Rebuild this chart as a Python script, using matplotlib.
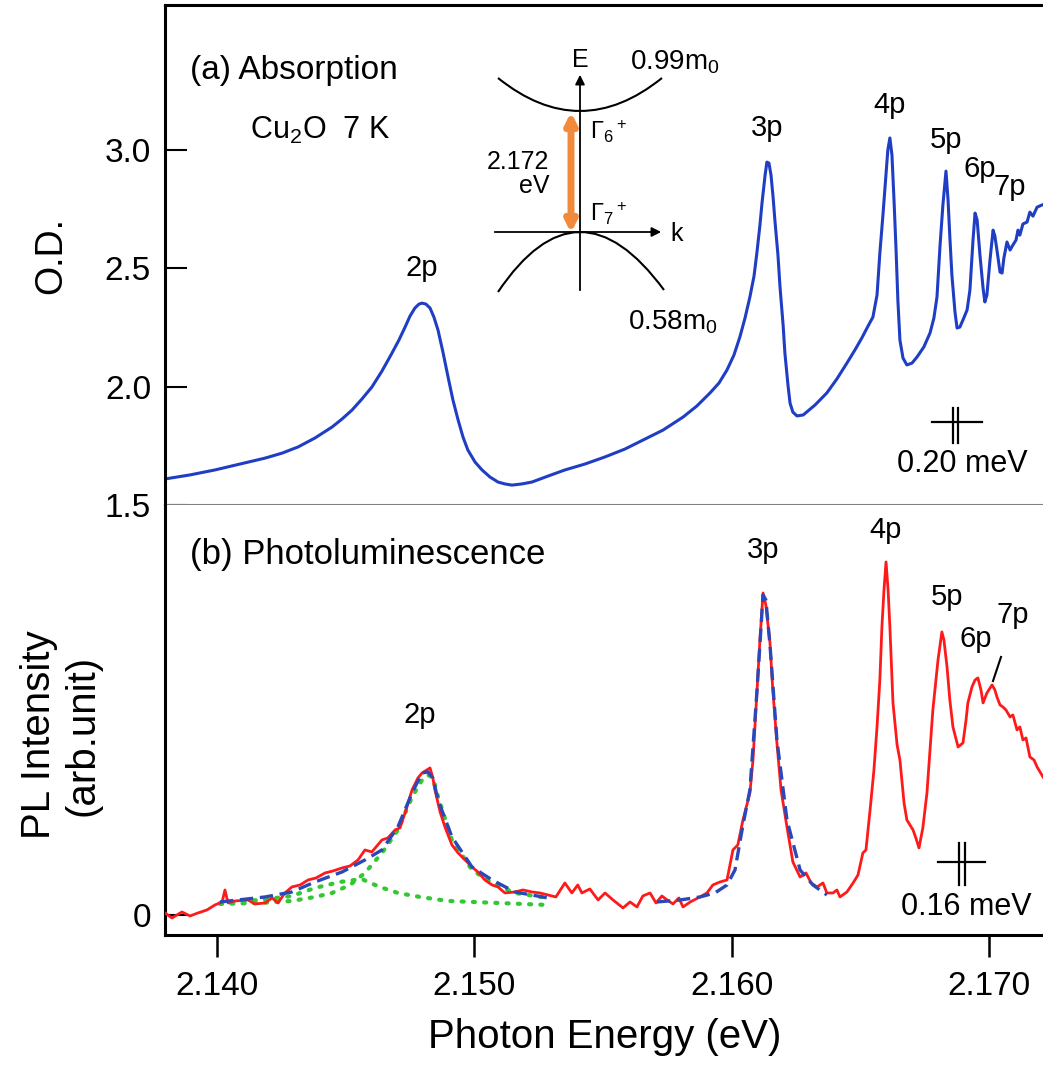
import matplotlib
matplotlib.use("Agg")
import matplotlib.pyplot as plt
from matplotlib.path import Path
from matplotlib.patches import PathPatch

plt.rcParams['font.family'] = ['Liberation Sans', 'DejaVu Sans']
plt.rcParams['mathtext.fontset'] = 'custom'
plt.rcParams['mathtext.rm'] = 'Liberation Sans'
plt.rcParams['mathtext.it'] = 'Liberation Sans:italic'

# ---- (a) absorption, Cu2O 7 K ----
abs_energy = [2.13798, 2.13895, 2.13992, 2.14089, 2.14187, 2.14253, 2.14315, 2.14381,
              2.14447, 2.14486, 2.14525, 2.14563, 2.14602, 2.14641, 2.14680, 2.14707,
              2.14731, 2.14750, 2.14769, 2.14785, 2.14797, 2.14812, 2.14828, 2.14843,
              2.14859, 2.14878, 2.14898, 2.14917, 2.14937, 2.14956, 2.14975, 2.15003,
              2.15030, 2.15061, 2.15092, 2.15119, 2.15146, 2.15185, 2.15224, 2.15286,
              2.15352, 2.15430, 2.15508, 2.15585, 2.15655, 2.15733, 2.15811, 2.15865,
              2.15916, 2.15951, 2.15982, 2.16009, 2.16032, 2.16052, 2.16071, 2.16087,
              2.16098, 2.16110, 2.16118, 2.16130, 2.16137, 2.16145, 2.16153, 2.16161,
              2.16168, 2.16180, 2.16188, 2.16200, 2.16207, 2.16219, 2.16227, 2.16238,
              2.16254, 2.16278, 2.16324, 2.16370, 2.16409, 2.16448, 2.16479, 2.16506,
              2.16530, 2.16549, 2.16565, 2.16576, 2.16588, 2.16596, 2.16607, 2.16615,
              2.16623, 2.16631, 2.16639, 2.16646, 2.16654, 2.16666, 2.16681, 2.16701,
              2.16720, 2.16747, 2.16771, 2.16786, 2.16798, 2.16810, 2.16821, 2.16833,
              2.16841, 2.16848, 2.16856, 2.16868, 2.16876, 2.16887, 2.16899, 2.16915,
              2.16926, 2.16938, 2.16946, 2.16954, 2.16965, 2.16977, 2.16984, 2.16992,
              2.17004, 2.17016, 2.17023, 2.17031, 2.17043, 2.17051, 2.17058, 2.17070,
              2.17082, 2.17093, 2.17105, 2.17113, 2.17120, 2.17132, 2.17148, 2.17159,
              2.17171, 2.17187, 2.17206]
abs_od = [1.610, 1.627, 1.648, 1.673, 1.698, 1.719, 1.745, 1.783,
          1.829, 1.863, 1.901, 1.947, 1.998, 2.065, 2.141, 2.196,
          2.251, 2.297, 2.331, 2.348, 2.352, 2.348, 2.331, 2.293,
          2.238, 2.146, 2.040, 1.943, 1.859, 1.787, 1.732, 1.681,
          1.648, 1.618, 1.597, 1.589, 1.584, 1.589, 1.597, 1.622,
          1.648, 1.673, 1.703, 1.736, 1.774, 1.816, 1.871, 1.918,
          1.973, 2.015, 2.070, 2.133, 2.209, 2.289, 2.378, 2.466,
          2.563, 2.681, 2.774, 2.892, 2.947, 2.943, 2.892, 2.800,
          2.703, 2.555, 2.420, 2.260, 2.141, 2.006, 1.930, 1.892,
          1.876, 1.880, 1.922, 1.973, 2.032, 2.099, 2.154, 2.205,
          2.255, 2.293, 2.386, 2.563, 2.724, 2.842, 2.998, 3.049,
          2.977, 2.787, 2.576, 2.365, 2.196, 2.120, 2.091, 2.099,
          2.124, 2.167, 2.226, 2.289, 2.378, 2.597, 2.766, 2.909,
          2.787, 2.631, 2.470, 2.314, 2.247, 2.251, 2.281, 2.323,
          2.407, 2.618, 2.732, 2.703, 2.555, 2.416, 2.357, 2.386,
          2.534, 2.660, 2.635, 2.576, 2.483, 2.479, 2.542, 2.610,
          2.576, 2.597, 2.618, 2.660, 2.639, 2.686, 2.694, 2.736,
          2.719, 2.757, 2.766]

# ---- (b) photoluminescence (arb. unit) ----
pl_energy = [2.13798, 2.13825, 2.13864, 2.13895, 2.13926, 2.13961, 2.13992, 2.14020,
             2.14031, 2.14043, 2.14070, 2.14120, 2.14148, 2.14187, 2.14214, 2.14237,
             2.14264, 2.14291, 2.14323, 2.14354, 2.14385, 2.14420, 2.14451, 2.14486,
             2.14517, 2.14548, 2.14575, 2.14602, 2.14641, 2.14664, 2.14692, 2.14711,
             2.14731, 2.14758, 2.14781, 2.14797, 2.14816, 2.14828, 2.14839, 2.14847,
             2.14867, 2.14886, 2.14913, 2.14937, 2.14964, 2.14991, 2.15014, 2.15041,
             2.15069, 2.15092, 2.15119, 2.15158, 2.15189, 2.15224, 2.15255, 2.15286,
             2.15317, 2.15352, 2.15379, 2.15402, 2.15418, 2.15449, 2.15481, 2.15508,
             2.15539, 2.15578, 2.15605, 2.15632, 2.15655, 2.15683, 2.15706, 2.15729,
             2.15749, 2.15772, 2.15795, 2.15811, 2.15839, 2.15877, 2.15904, 2.15927,
             2.15955, 2.15982, 2.16005, 2.16024, 2.16044, 2.16071, 2.16083, 2.16098,
             2.16110, 2.16122, 2.16133, 2.16149, 2.16160, 2.16176, 2.16192, 2.16215,
             2.16238, 2.16266, 2.16289, 2.16309, 2.16332, 2.16355, 2.16370, 2.16394,
             2.16409, 2.16421, 2.16448, 2.16472, 2.16491, 2.16510, 2.16522, 2.16538,
             2.16553, 2.16565, 2.16576, 2.16584, 2.16592, 2.16600, 2.16608, 2.16615,
             2.16627, 2.16643, 2.16654, 2.16670, 2.16681, 2.16693, 2.16705, 2.16716,
             2.16728, 2.16743, 2.16759, 2.16771, 2.16782, 2.16802, 2.16817, 2.16825,
             2.16837, 2.16848, 2.16860, 2.16880, 2.16899, 2.16911, 2.16918, 2.16934,
             2.16946, 2.16957, 2.16969, 2.16977, 2.16992, 2.17012, 2.17023, 2.17031,
             2.17043, 2.17054, 2.17066, 2.17082, 2.17093, 2.17109, 2.17120, 2.17132,
             2.17144, 2.17159, 2.17175, 2.17187, 2.17210]
pl_int = [0.02, -0.03, 0.03, -0.01, 0.02, 0.05, 0.10, 0.13,
          0.25, 0.12, 0.14, 0.15, 0.11, 0.12, 0.17, 0.12,
          0.22, 0.28, 0.30, 0.35, 0.37, 0.42, 0.44, 0.47,
          0.49, 0.55, 0.65, 0.63, 0.75, 0.77, 0.85, 0.87,
          1.02, 1.25, 1.37, 1.42, 1.45, 1.47, 1.37, 1.25,
          1.03, 0.88, 0.70, 0.62, 0.55, 0.48, 0.43, 0.35,
          0.30, 0.28, 0.22, 0.23, 0.25, 0.23, 0.22, 0.20,
          0.18, 0.32, 0.22, 0.30, 0.22, 0.26, 0.15, 0.22,
          0.15, 0.07, 0.13, 0.08, 0.19, 0.22, 0.12, 0.19,
          0.15, 0.11, 0.17, 0.08, 0.13, 0.18, 0.22, 0.30,
          0.33, 0.35, 0.65, 0.70, 0.95, 1.22, 1.55, 2.22,
          2.75, 3.22, 3.10, 2.72, 2.25, 1.72, 1.25, 0.88,
          0.53, 0.38, 0.42, 0.32, 0.28, 0.32, 0.22, 0.22,
          0.25, 0.18, 0.23, 0.32, 0.40, 0.62, 0.65, 1.05,
          1.45, 1.88, 2.35, 2.88, 3.25, 3.53, 3.25, 2.88,
          2.12, 1.70, 1.55, 1.12, 0.95, 0.90, 0.85, 0.77,
          0.67, 0.87, 1.22, 1.65, 2.05, 2.55, 2.83, 2.75,
          2.48, 2.15, 1.88, 1.68, 1.72, 1.95, 2.12, 2.28,
          2.35, 2.37, 2.25, 2.12, 2.22, 2.30, 2.25, 2.18,
          2.10, 2.08, 2.05, 1.98, 2.00, 1.85, 1.88, 1.75,
          1.77, 1.58, 1.55, 1.48, 1.38]

# fits (blue dashed) and the two 2p components (green dotted)
fit2p_energy = [2.14012, 2.14187, 2.14291, 2.14381, 2.14486, 2.14575, 2.14641, 2.14703,
                2.14758, 2.14797, 2.14820, 2.14839, 2.14859, 2.14913, 2.14991, 2.15069,
                2.15158, 2.15286]
fit2p_int = [0.13, 0.18, 0.23, 0.33, 0.43, 0.55, 0.65, 0.88,
             1.22, 1.42, 1.43, 1.37, 1.15, 0.78, 0.48, 0.35,
             0.23, 0.17]
fit3p_energy = [2.15710, 2.15800, 2.15877, 2.15935, 2.15982, 2.16013, 2.16044, 2.16071,
                2.16098, 2.16122, 2.16133, 2.16149, 2.16176, 2.16215, 2.16266, 2.16316,
                2.16370]
fit3p_int = [0.13, 0.15, 0.18, 0.22, 0.30, 0.45, 0.90, 1.25,
             2.22, 3.20, 3.15, 2.70, 1.75, 0.95, 0.45, 0.30,
             0.20]
main2p_energy = [2.14012, 2.14167, 2.14291, 2.14381, 2.14447, 2.14517, 2.14575, 2.14641,
                 2.14703, 2.14758, 2.14797, 2.14820, 2.14839, 2.14859, 2.14913, 2.14991,
                 2.15069, 2.15158, 2.15286]
main2p_int = [0.11, 0.12, 0.14, 0.18, 0.22, 0.30, 0.42, 0.62,
              0.85, 1.18, 1.35, 1.40, 1.37, 1.18, 0.75, 0.45,
              0.32, 0.22, 0.17]
low2p_energy = [2.14012, 2.14167, 2.14291, 2.14381, 2.14478, 2.14536, 2.14563, 2.14587,
                2.14633, 2.14703, 2.14789, 2.14898, 2.15092, 2.15286]
low2p_int = [0.12, 0.15, 0.19, 0.27, 0.33, 0.35, 0.36, 0.33,
             0.28, 0.22, 0.18, 0.14, 0.12, 0.10]

peak_names = ['2p', '3p', '4p', '5p', '6p', '7p']
abs_label_x = [2.14797, 2.16137, 2.16615, 2.16833, 2.16965, 2.17082]
abs_label_y = [2.50, 3.09, 3.19, 3.04, 2.92, 2.84]
pl_label_x = [2.14789, 2.16122, 2.16600, 2.16837, 2.16950, 2.17093]
pl_label_y = [2.00, 3.65, 3.85, 3.18, 2.76, 3.00]

BLUE = '#1f3ec4'
RED = '#ff1a1a'
GREEN = '#33c833'
DASHBLUE = '#2b48b8'
ORANGE = '#f28a3c'

fig = plt.figure(figsize=(10.43, 10.65), dpi=100)
ax1 = fig.add_axes([0.1582, 0.5258, 0.8418, 0.4695])
ax2 = fig.add_axes([0.1582, 0.1221, 0.8418, 0.4038], sharex=ax1)

xlim = (2.13798, 2.17210)

# top panel
ax1.plot(abs_energy, abs_od, color=BLUE, lw=2.2, solid_joinstyle='round')
ax1.set_xlim(xlim)
ax1.set_ylim(1.5, 3.61)
ax1.set_yticks([1.5, 2.0, 2.5, 3.0])
ax1.set_yticklabels(['1.5', '2.0', '2.5', '3.0'])
ax1.tick_params(axis='y', direction='in', length=16, width=1.5, labelsize=24, pad=10)
ax1.tick_params(axis='x', bottom=False, labelbottom=False)
ax1.spines['right'].set_visible(False)
ax1.spines['left'].set_linewidth(2.2)
ax1.spines['top'].set_linewidth(2.2)
ax1.spines['bottom'].set_color('#808080')
ax1.spines['bottom'].set_linewidth(1.5)
ax1.set_ylabel('O.D.', fontsize=27)
ax1.yaxis.set_label_coords(-0.109, 0.5)
ax1.text(0.0285, 0.87, '(a) Absorption', transform=ax1.transAxes, fontsize=24,
         ha='left', va='center')
ax1.text(0.097, 0.75, 'Cu$_2$O  7 K', transform=ax1.transAxes, fontsize=22,
         ha='left', va='center')
for name, x, y in zip(peak_names, abs_label_x, abs_label_y):
    ax1.text(x, y, name, fontsize=21, ha='center', va='center')

# bottom panel
ax2.plot(pl_energy, pl_int, color=RED, lw=2.0, zorder=3, solid_joinstyle='round')
ax2.plot(main2p_energy, main2p_int, color=GREEN, lw=3.0, dashes=(0.5, 2.2),
         dash_capstyle='round', zorder=2)
ax2.plot(low2p_energy, low2p_int, color=GREEN, lw=3.0, dashes=(0.5, 2.2),
         dash_capstyle='round', zorder=2)
ax2.plot(fit2p_energy, fit2p_int, color=DASHBLUE, lw=2.4, dashes=(4, 2), zorder=4)
ax2.plot(fit3p_energy, fit3p_int, color=DASHBLUE, lw=2.4, dashes=(4, 2), zorder=4)
ax2.set_ylim(-0.20, 4.10)
ax2.set_yticks([0])
ax2.set_yticklabels(['0'])
ax2.tick_params(axis='y', direction='in', length=16, width=1.5, labelsize=24, pad=10)
ax2.set_xticks([2.140, 2.150, 2.160, 2.170])
ax2.set_xticklabels(['2.140', '2.150', '2.160', '2.170'])
ax2.tick_params(axis='x', direction='out', length=16, width=1.8, labelsize=24, pad=10)
ax2.spines['right'].set_visible(False)
ax2.spines['top'].set_visible(False)
ax2.spines['left'].set_linewidth(2.2)
ax2.spines['bottom'].set_linewidth(2.2)
ax2.set_ylabel('PL Intensity\n(arb.unit)', fontsize=29, linespacing=1.2)
ax2.yaxis.set_label_coords(-0.072, 0.465)
ax2.set_xlabel('Photon Energy (eV)', fontsize=29)
ax2.xaxis.set_label_coords(0.501, -0.192)
ax2.text(0.0285, 0.884, '(b) Photoluminescence', transform=ax2.transAxes, fontsize=25,
         ha='left', va='center')
for name, x, y in zip(peak_names, pl_label_x, pl_label_y):
    ax2.text(x, y, name, fontsize=21, ha='center', va='center')

# overlay in pixel units for the band sketch and resolution marks
ov = fig.add_axes([0, 0, 1, 1], facecolor='none')
ov.set_xlim(0, 1043)
ov.set_ylim(1065, 0)
ov.axis('off')

# band diagram
cb = Path([(498, 78), (580, 144), (662, 78)], [Path.MOVETO, Path.CURVE3, Path.CURVE3])
vb = Path([(498, 292), (578, 173), (664, 290)], [Path.MOVETO, Path.CURVE3, Path.CURVE3])
ov.add_patch(PathPatch(cb, fc='none', ec='black', lw=1.5))
ov.add_patch(PathPatch(vb, fc='none', ec='black', lw=1.5))
ov.annotate('', xy=(580, 72), xytext=(580, 293),
            arrowprops=dict(arrowstyle='-|>', lw=1.3, color='black', mutation_scale=14))
ov.annotate('', xy=(664, 232), xytext=(492, 232),
            arrowprops=dict(arrowstyle='-|>', lw=1.3, color='black', mutation_scale=14))
ov.annotate('', xy=(571, 112), xytext=(571, 233),
            arrowprops=dict(arrowstyle='<|-|>', lw=5, color=ORANGE, mutation_scale=16,
                            shrinkA=0, shrinkB=0))
ov.text(580, 60, 'E', fontsize=18, ha='center', va='center')
ov.text(670, 234, 'k', fontsize=18, ha='left', va='center')
ov.text(630, 62, '0.99m$_0$', fontsize=20, ha='left', va='center')
ov.text(628, 322, '0.58m$_0$', fontsize=20, ha='left', va='center')
ov.text(590, 132, 'Γ$_6$$^+$', fontsize=17, ha='left', va='center')
ov.text(590, 214, 'Γ$_7$$^+$', fontsize=17, ha='left', va='center')
ov.text(549, 174, '2.172\neV', fontsize=18, ha='right', va='center',
        multialignment='right', linespacing=1.0)

# resolution marks
ov.plot([932, 982], [422, 422], color='black', lw=1.6)
ov.plot([953, 953], [408, 443], color='black', lw=1.6)
ov.plot([958, 958], [408, 443], color='black', lw=1.6)
ov.text(962, 464, '0.20 meV', fontsize=22, ha='center', va='center')
ov.plot([938, 985], [862, 862], color='black', lw=1.6)
ov.plot([959, 959], [843, 885], color='black', lw=1.6)
ov.plot([965, 965], [843, 885], color='black', lw=1.6)
ov.text(966, 907, '0.16 meV', fontsize=22, ha='center', va='center')
ov.plot([993, 1001], [681, 657], color='black', lw=1.5)

fig.savefig('out.png', dpi=100)
